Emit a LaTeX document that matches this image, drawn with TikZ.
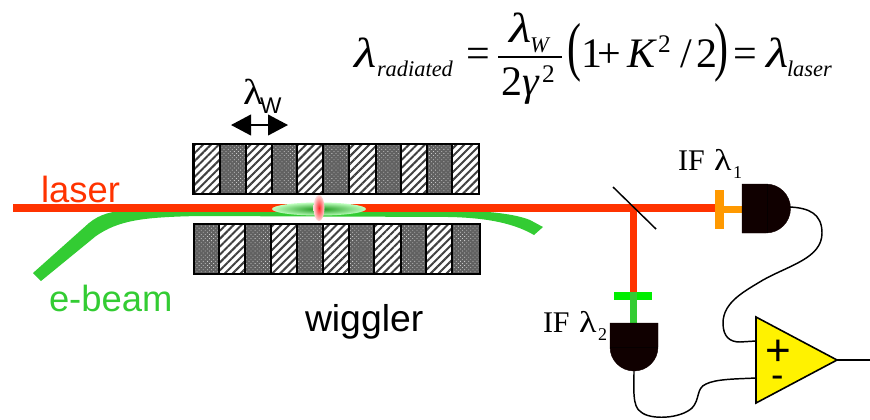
\documentclass[tikz,border=0pt]{standalone}
\usepackage{fontspec}
\setmainfont{Liberation Serif}
\setsansfont{Liberation Sans}
\usetikzlibrary{arrows.meta,patterns.meta,shapes.geometric}
\definecolor{laserred}{HTML}{FF3300}
\definecolor{beamgreen}{HTML}{33CC33}
\definecolor{filtorange}{HTML}{FF9900}
\definecolor{filtgreen}{HTML}{00EE00}
\definecolor{detblack}{HTML}{100000}
\newcommand{\fs}[1]{\fontsize{#1}{#1}\selectfont}
\tikzset{
  x=0.75pt,y=-0.75pt,
  txt/.style={inner sep=0pt,outer sep=0pt,anchor=base west},
  eqn/.style={txt,font=\fs{31.5}},
  lam/.style={txt,font=\fs{31.5}\itshape,xscale=1.22},
  sub/.style={txt,font=\fs{16.8}\itshape},
  lab/.style={txt,font=\sffamily\fs{27.3}},
  stripes/.style={draw=black,line width=1.6pt,
    pattern={Lines[angle=45,distance=4.2pt,line width=1.5pt]},pattern color=black!75},
  graymag/.style={draw=black,line width=1.6pt},
  wire/.style={draw=black,line width=1.1pt},
  det/.style={fill=detblack,draw=detblack,line width=.3pt},
}
\begin{document}
\begin{tikzpicture}
\useasboundingbox (0,0) rectangle (870,419);
% magnets, top row
\foreach \a/\b in {193.5/220,245.7/272,297.3/323.3,349.3/375.7,400.7/427,452.3/479}{
  \fill[white] (\a,144) rectangle (\b,194);
  \draw[stripes] (\a,144) rectangle (\b,194);}
\foreach \a/\b in {220/245.7,272/297.3,323.3/349.3,375.7/400.7,427/452.3}{
  \fill[black!62] (\a,144) rectangle (\b,194);
  \fill[pattern={Dots[angle=45,distance=2.2pt,radius=.42pt]},pattern color=white!80!black] (\a,144) rectangle (\b,194);
  \draw[graymag] (\a,144) rectangle (\b,194);}
% magnets, bottom row
\foreach \a/\b in {219/245,271/297.3,322.7/349.3,374.3/400.7,426/452.3}{
  \fill[white] (\a,224) rectangle (\b,274);
  \draw[stripes] (\a,224) rectangle (\b,274);}
\foreach \a/\b in {194/219,245/271,297.3/322.7,349.3/374.3,400.7/426,452.3/480}{
  \fill[black!62] (\a,224) rectangle (\b,274);
  \fill[pattern={Dots[angle=45,distance=2.2pt,radius=.42pt]},pattern color=white!80!black] (\a,224) rectangle (\b,274);
  \draw[graymag] (\a,224) rectangle (\b,274);}
% e-beam
\fill[beamgreen] (33,273) -- (89,223) .. controls (100,214) and (112,211) .. (130,210)
  -- (450,210) .. controls (490,211) and (515,214) .. (530,220) -- (543,227) -- (534,235)
  .. controls (515,224) and (490,218) .. (450,217) -- (200,216)
  .. controls (140,217) and (118,221) .. (96,236) -- (41,281) -- cycle;
% laser
\coordinate (laserstart) at (13,208);
\coordinate (split) at (633.5,208);
\coordinate (filt1) at (719,208);
\coordinate (filt2) at (633.5,296);
\draw[laserred,line width=6pt] (laserstart) -- (filt1);
\draw[laserred,line width=5.4pt] (split) -- (filt2);
% interaction region
\shade[inner color=green!55!black!90!white,outer color=green!25!white] (319,209) ellipse [x radius=47,y radius=6.5];
\shade[inner color=red!85!white,outer color=red!15!white] (319,208) ellipse [x radius=5.5,y radius=13];
% mirror
\coordinate (m1) at (613,187);
\coordinate (m2) at (656,229);
\draw[wire] (m1) -- (m2);
% filter 1 and stem
\fill[filtorange] (715,190) rectangle (724,229);
\fill[filtorange] (724,206) rectangle (742,213);
% filter 2 and stem
\fill[filtgreen] (614,292) rectangle (652,300);
\fill[beamgreen] (630,292) rectangle (637,323);
% detectors
\draw[det] (742,184) -- (766,184) arc [start angle=-90,end angle=90,radius=24.5] -- (742,233) -- cycle;
\draw[black!70!detblack,line width=.4pt] (767,184) -- (767,233);
\coordinate (det1out) at (790,207);
\draw[det] (610,323) -- (658,323) -- (658,347) arc [start angle=0,end angle=180,radius=24] -- cycle;
\draw[black!70!detblack,line width=.4pt] (610,347) -- (658,347);
\coordinate (det2out) at (634,371);
% amplifier
\coordinate (ampa) at (756,317);
\coordinate (ampb) at (756,403);
\coordinate (amptip) at (837,360);
\coordinate (ampplus) at (756,341);
\coordinate (ampminus) at (756,378);
\coordinate (ampend) at (870,360);
\draw[fill=yellow,draw=black,line width=1.2pt,line join=miter] (ampa) -- (amptip) -- (ampb) -- cycle;
\draw[wire] (amptip) -- (ampend);
\draw[wire] (det1out) .. controls (808,208) and (822,213) .. (822,233)
  .. controls (822,258) and (790,265) .. (763,280)
  .. controls (745,291) and (723,302) .. (723,323)
  .. controls (723,337) and (730,342) .. (740,342) -- (ampplus);
\draw[wire] (det2out) .. controls (634,388) and (632,407) .. (641,412)
  .. controls (650,420) and (680,419) .. (692,408)
  .. controls (700,400) and (696,388) .. (706,384)
  .. controls (716,379) and (735,379) .. (ampminus);
\node[txt,font=\sffamily\fs{33}] (plus) at (765,365) {+};
\node[txt,font=\sffamily\fs{28}] (minus) at (771,387) {-};
% wiggler period
\coordinate (wl) at (231,125);
\coordinate (wr) at (288,125);
\draw[black,line width=1.5pt,{Triangle[length=15pt,width=15.5pt]}-{Triangle[length=15pt,width=15.5pt]}] (wl) -- (wr);
\node[txt,font=\fs{27},xscale=1.15] (lw) at (243,104) {λ};
\node[txt,font=\sffamily\fs{17}] (lwsub) at (260,113) {W};
% labels
\node[lab,text=laserred] (laser) at (41,202) {laser};
\node[lab,text=beamgreen] (ebeam) at (49,311) {e-beam};
\node[lab,text=black,font=\sffamily\fs{28}] (wiggler) at (305,331) {wiggler};
\node[txt,font=\fs{22.5}] (if1) at (678,170) {IF};
\node[txt,font=\fs{22.5},xscale=1.2] (if1l) at (714,170) {λ};
\node[txt,font=\fs{13.5}] (if1s) at (733,178) {1};
\node[txt,font=\fs{22.5}] (if2) at (543,332) {IF};
\node[txt,font=\fs{22.5},xscale=1.2] (if2l) at (579,332) {λ};
\node[txt,font=\fs{13.5}] (if2s) at (598,340) {2};
% formula
\node[lam] (e1) at (354,67) {λ};
\node[sub] (e2) at (377,76) {radiated};
\node[eqn] (e3) at (466,67) {=};
\node[lam] (e4) at (509,42) {λ};
\node[sub] (e5) at (530,52) {W};
\coordinate (fl) at (498,57);
\coordinate (fr) at (562,57);
\draw[black,line width=.9pt] (fl) -- (fr);
\node[eqn] (e6) at (501,95) {2};
\node[eqn] (e7) at (522,95) {\itshape γ};
\node[txt,font=\fs{19}] (e8) at (542,82) {2};
\node[txt,font=\fs{31.5},yscale=1.55] (e9) at (567,68) {(};
\node[eqn] (e10) at (581,67) {1};
\node[eqn] (e11) at (597,67) {+};
\node[eqn] (e12) at (627,67) {\itshape K};
\node[txt,font=\fs{19}] (e13) at (658,52) {2};
\node[eqn] (e14) at (680,67) {/};
\node[eqn] (e15) at (696,67) {2};
\node[txt,font=\fs{31.5},yscale=1.55] (e16) at (714,68) {)};
\node[eqn] (e17) at (733,67) {=};
\node[lam] (e18) at (766,67) {λ};
\node[sub] (e19) at (787,76) {laser};
\end{tikzpicture}
\end{document}
